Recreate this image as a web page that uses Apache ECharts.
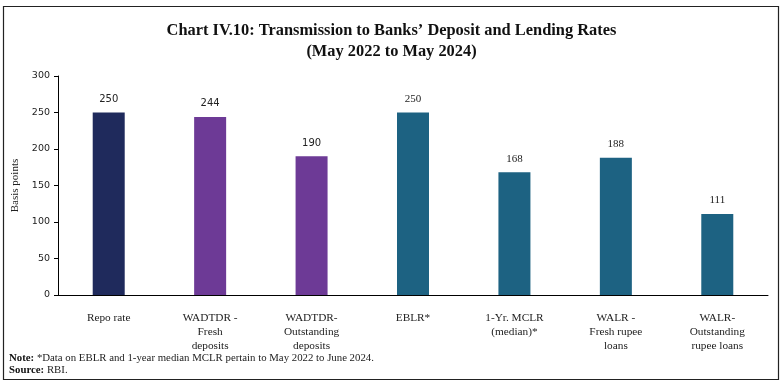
<!DOCTYPE html>
<html><head><meta charset="utf-8">
<script src="https://cdn.jsdelivr.net/npm/echarts@6/dist/echarts.min.js"></script>
<style>html,body{margin:0;padding:0;background:#fff}#c{width:783px;height:387px}</style>
</head><body><div id="c"></div>
<script>
const categories = ['Repo rate', 'WADTDR -\nFresh\ndeposits', 'WADTDR-\nOutstanding\ndeposits', 'EBLR*', '1-Yr. MCLR\n(median)*', 'WALR -\nFresh rupee\nloans', 'WALR-\nOutstanding\nrupee loans'];
const values = [250, 244, 190, 250, 168, 188, 111];
const barColors = ['#1f2a5c', '#6d3a96', '#6d3a96', '#1d6282', '#1d6282', '#1d6282', '#1d6282'];
const yTicks = [0, 50, 100, 150, 200, 250, 300];

const chart = echarts.init(document.getElementById('c'), null, {renderer: 'canvas'});
const serif = '"Liberation Serif", "DejaVu Serif", serif';
const sans = '"DejaVu Sans", Verdana, sans-serif';
chart.setOption({
  animation: false,
  title: {
    text: 'Chart IV.10: Transmission to Banks\u2019 Deposit and Lending Rates\n(May 2022 to May 2024)',
    left: 'center', top: 15,
    textStyle: {fontFamily: serif, fontSize: 16.4, fontWeight: 'bold', color: '#111', lineHeight: 21}
  },
  grid: {left: 58, right: 15, top: 76, bottom: 92},
  xAxis: {
    type: 'category', data: categories,
    axisLine: {lineStyle: {color: '#000', width: 1}},
    axisTick: {show: false},
    axisLabel: {fontFamily: serif, fontSize: 11.3, color: '#222', lineHeight: 14, margin: 16, interval: 0}
  },
  yAxis: {
    type: 'value', min: yTicks[0], max: yTicks[yTicks.length - 1], interval: 50,
    name: 'Basis points', nameLocation: 'middle', nameGap: 34,
    nameTextStyle: {fontFamily: serif, fontSize: 11, color: '#222'},
    axisLine: {show: true, lineStyle: {color: '#000'}},
    axisTick: {show: true, length: 4, lineStyle: {color: '#000'}},
    splitLine: {show: false},
    axisLabel: {fontFamily: sans, fontSize: 9.5, color: '#222', margin: 8}
  },
  series: [{
    type: 'bar', barWidth: 32,
    data: values.map((v, i) => ({
      value: v,
      itemStyle: {color: barColors[i]},
      label: {fontFamily: i < 3 ? sans : serif, fontSize: i < 3 ? 10 : 11}
    })),
    label: {show: true, position: 'top', distance: 8, color: '#222'}
  }],
  graphic: [
    {type: 'rect', shape: {x: 3.5, y: 6.5, width: 775, height: 373}, style: {fill: 'none', stroke: '#222', lineWidth: 1.2}, silent: true},
    {type: 'text', left: 9, top: 353, style: {
      rich: {b: {fontWeight: 'bold', fontFamily: serif, fontSize: 10.8, fill: '#111'}, n: {fontFamily: serif, fontSize: 10.8, fill: '#222'}},
      text: '{b|Note:} {n|*Data on EBLR and 1-year median MCLR pertain to May 2022 to June 2024.}', fontFamily: serif, fontSize: 10.8
    }},
    {type: 'text', left: 9, top: 365, style: {
      rich: {b: {fontWeight: 'bold', fontFamily: serif, fontSize: 10.8, fill: '#111'}, n: {fontFamily: serif, fontSize: 10.8, fill: '#222'}},
      text: '{b|Source:} {n|RBI.}', fontFamily: serif, fontSize: 10.8
    }}
  ]
});
</script></body></html>
